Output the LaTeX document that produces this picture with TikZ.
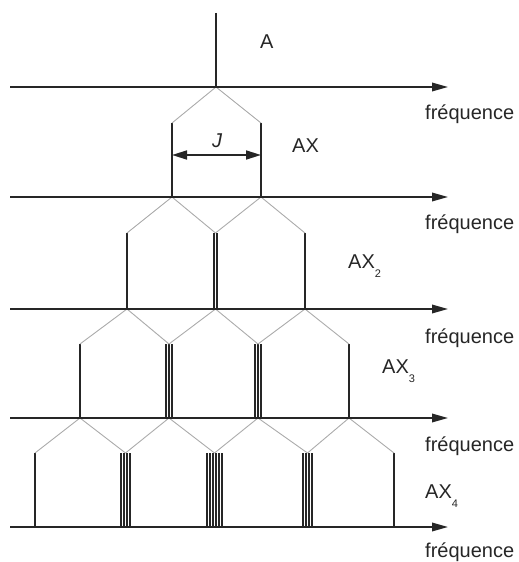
\documentclass[tikz,border=0pt]{standalone}
\usepackage{fontspec}
\setmainfont{Liberation Sans}
\usetikzlibrary{arrows.meta}
\definecolor{ink}{HTML}{262626}
\definecolor{branchgray}{HTML}{ABABAB}

% one spectral line (or a packet of close lines) standing on its axis
% #1 name, #2 x, #3 top y, #4 axis y, #5 number of lines
\newcommand\peakgroup[5]{%
  \coordinate (#1t) at (#2,#3);
  \coordinate (#1b) at (#2,#4);
  \ifnum#5=1
    \draw[peak] (#1t) -- (#1b);
  \else
    \foreach \j in {1,...,#5}
      \draw[fine peak] ([xshift={(\j-(#5+1)/2)*3bp}]#1t) -- ([xshift={(\j-(#5+1)/2)*3bp}]#1b);
  \fi}

\newcommand\subnum[1]{\raisebox{-9bp}{\fontsize{11bp}{11bp}\selectfont #1}}

\begin{document}
\begin{tikzpicture}[x=1bp,y=-1bp,
  axis/.style={line width=1.8bp, draw=ink, -{Triangle[length=16bp,width=8.5bp]}},
  peak/.style={line width=1.7bp, draw=ink},
  fine peak/.style={line width=1.4bp, draw=ink},
  branch/.style={line width=0.9bp, draw=branchgray},
  dim/.style={line width=1.7bp, draw=ink,
    {Triangle[length=15bp,width=9bp]}-{Triangle[length=15bp,width=9bp]}},
  lbl/.style={font=\fontsize{20bp}{22bp}\selectfont, text=ink, inner sep=0pt, anchor=base west}]

\useasboundingbox (0,0) rectangle (519,562);

% splitting pattern: each line splits into two, J apart
\peakgroup{A}{216}{13}{87}{1}
\peakgroup{L1a}{172}{123}{197}{1}
\peakgroup{L1b}{261}{123}{197}{1}
\peakgroup{L2a}{127}{233}{309}{1}
\peakgroup{L2b}{215.5}{233}{309}{2}
\peakgroup{L2c}{305}{233}{309}{1}
\peakgroup{L3a}{80}{344}{418}{1}
\peakgroup{L3b}{169}{344}{418}{3}
\peakgroup{L3c}{258}{344}{418}{3}
\peakgroup{L3d}{349}{344}{418}{1}
\peakgroup{L4a}{35}{453}{527}{1}
\peakgroup{L4b}{125.5}{453}{527}{4}
\peakgroup{L4c}{214.5}{453}{527}{6}
\peakgroup{L4d}{307.5}{453}{527}{4}
\peakgroup{L4e}{394}{453}{527}{1}

% branching lines
\draw[branch] (L1at) -- (Ab) -- (L1bt);
\draw[branch] (L2at) -- (L1ab) -- (L2bt);
\draw[branch] (L2bt) -- (L1bb) -- (L2ct);
\draw[branch] (L3at) -- (L2ab) -- (L3bt);
\draw[branch] (L3bt) -- (L2bb) -- (L3ct);
\draw[branch] (L3ct) -- (L2cb) -- (L3dt);
\draw[branch] (L4at) -- (L3ab) -- (L4bt);
\draw[branch] (L4bt) -- (L3bb) -- (L4ct);
\draw[branch] (L4ct) -- (L3cb) -- (L4dt);
\draw[branch] (L4dt) -- (L3db) -- (L4et);

% frequency axes
\foreach \y [count=\k from 0] in {87,197,309,418,527} {
  \coordinate (s\k) at (10,\y);
  \coordinate (e\k) at (448,\y);
  \draw[axis] (s\k) -- (e\k);
}

% coupling constant
\path (L1at) ++(0,32) coordinate (Jl);
\path (L1bt) ++(0,32) coordinate (Jr);
\draw[dim] (Jl) -- (Jr);
\node[lbl, anchor=center] (Jlab) at (217,141) {\itshape J};

% multiplet names
\node[lbl] (nA)  at (260,49)  {A};
\node[lbl] (nAX) at (292,153) {AX};
\node[lbl] (nAX2) at (348,268) {AX\subnum{2}};
\node[lbl] (nAX3) at (382,373) {AX\subnum{3}};
\node[lbl] (nAX4) at (425,498) {AX\subnum{4}};

% axis captions
\foreach \y [count=\k from 0] in {120,229,343,451,557}
  \node[lbl] (f\k) at (425,\y) {fréquence};

\end{tikzpicture}
\end{document}
